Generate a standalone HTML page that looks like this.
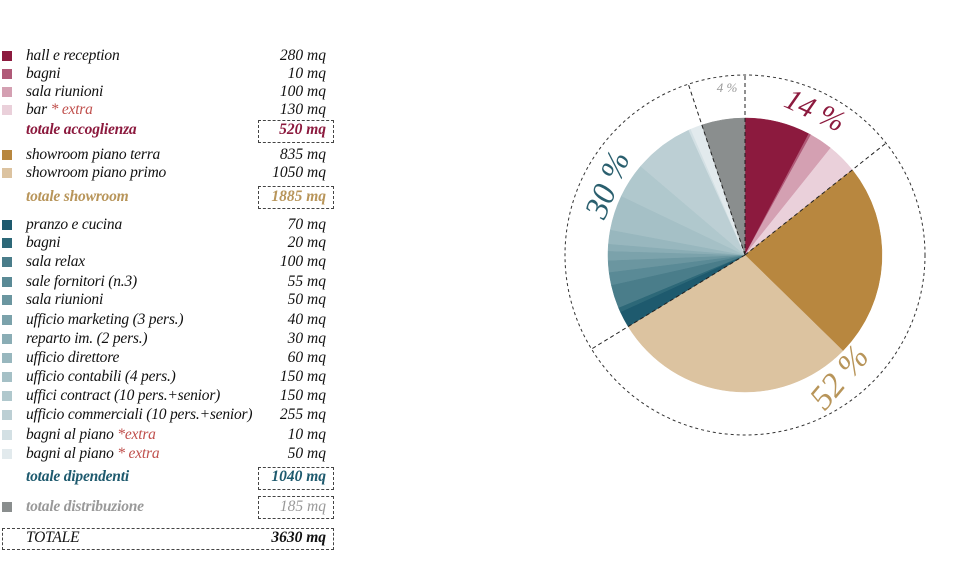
<!DOCTYPE html>
<html><head><meta charset="utf-8"><style>
body{margin:0;width:960px;height:586px;background:#fff;position:relative;overflow:hidden;font-family:"Liberation Serif",serif;font-style:italic;font-size:15.5px;color:#111}
.r{position:absolute;left:0;width:340px;height:18px;line-height:18px}
.sw{position:absolute;left:2px;top:4px;width:10px;height:10px}
.l{position:absolute;left:26px;letter-spacing:-0.2px}
.v{position:absolute;right:14px;text-align:right}
.b{font-weight:bold}
.x{color:#c0504d}
.box{position:absolute;border:1px dashed #444}
</style></head><body>
<div id="leg"></div>
<div class="box" style="left:258px;top:120px;width:74px;height:21px"></div>
<div class="box" style="left:258px;top:186px;width:74px;height:21px"></div>
<div class="box" style="left:258px;top:467px;width:74px;height:21px"></div>
<div class="box" style="left:258px;top:496px;width:74px;height:21px"></div>
<div class="box" style="left:2px;top:528px;width:330px;height:20px"></div>
<svg id="pie" width="960" height="586" style="position:absolute;left:0;top:0"></svg>
<script>
var rows=[
[56,'#8c1a3e','hall e reception','280 mq'],
[74,'#b05a78','bagni','10 mq'],
[92,'#d4a0b2','sala riunioni','100 mq'],
[110,'#ead0da','bar <span class="x">* extra</span>','130 mq'],
[130,null,'<span class="b" style="color:#8c1a3e">totale accoglienza</span>','<span class="b" style="color:#8c1a3e">520 mq</span>'],
[155,'#b8873f','showroom piano terra','835 mq'],
[173,'#dcc3a0','showroom piano primo','1050 mq'],
[197,null,'<span class="b" style="color:#b8955a">totale showroom</span>','<span class="b" style="color:#b8955a">1885 mq</span>'],
[225,'#1e5a6e','pranzo e cucina','70 mq'],
[243,'#2d6878','bagni','20 mq'],
[262,'#4a7d8a','sala relax','100 mq'],
[282,'#5a8a96','sale fornitori (n.3)','55 mq'],
[300,'#6b96a0','sala riunioni','50 mq'],
[320,'#7ba2ab','ufficio marketing (3 pers.)','40 mq'],
[339,'#8aadb5','reparto im. (2 pers.)','30 mq'],
[358,'#98b7be','ufficio direttore','60 mq'],
[377,'#a5c0c6','ufficio contabili (4 pers.)','150 mq'],
[396,'#b0c8cd','uffici contract (10 pers.+senior)','150 mq'],
[415,'#bccfd4','ufficio commerciali (10 pers.+senior)','255 mq'],
[435,'#d3e0e4','bagni al piano <span class="x">*extra</span>','10 mq'],
[454,'#e2eaed','bagni al piano <span class="x">* extra</span>','50 mq'],
[477,null,'<span class="b" style="color:#1e5a6e">totale dipendenti</span>','<span class="b" style="color:#1e5a6e">1040 mq</span>'],
[507,'#8a8e8e','<span class="b" style="color:#999">totale distribuzione</span>','<span style="color:#999">185 mq</span>'],
[538,null,'TOTALE','<span class="b">3630 mq</span>']];
var h='';
rows.forEach(function(r){h+='<div class="r" style="top:'+(r[0]-9)+'px">'+(r[1]?'<div class="sw" style="background:'+r[1]+'"></div>':'')+'<span class="l">'+r[2]+'</span><span class="v">'+r[3]+'</span></div>';});
document.getElementById('leg').innerHTML=h;
var data=[[280,'#8c1a3e'],[10,'#b05a78'],[100,'#d4a0b2'],[130,'#ead0da'],[835,'#b8873f'],[1050,'#dcc3a0'],
[70,'#1e5a6e'],[20,'#2d6878'],[100,'#4a7d8a'],[55,'#5a8a96'],[50,'#6b96a0'],[40,'#7ba2ab'],[30,'#8aadb5'],[60,'#98b7be'],[150,'#a5c0c6'],[150,'#b0c8cd'],[255,'#bccfd4'],[10,'#d3e0e4'],[50,'#e2eaed'],[185,'#8a8e8e']];
var cx=745,cy=255,R=137,RO=180,tot=3630,a=0,s='';
function pt(ang,r){var t=ang/tot*2*Math.PI;return [cx+r*Math.sin(t),cy-r*Math.cos(t)];}
data.forEach(function(d){var p1=pt(a,R),p2=pt(a+d[0],R),lg=d[0]/tot>0.5?1:0;
s+='<path d="M'+cx+' '+cy+'L'+p1[0]+' '+p1[1]+'A'+R+' '+R+' 0 '+lg+' 1 '+p2[0]+' '+p2[1]+'Z" fill="'+d[1]+'" stroke="'+d[1]+'" stroke-width="0.5"/>';a+=d[0];});
s+='<circle cx="'+cx+'" cy="'+cy+'" r="'+RO+'" fill="none" stroke="#333" stroke-dasharray="3,3"/>';
[0,520,2405,3445].forEach(function(v){var p=pt(v,RO);s+='<line x1="'+cx+'" y1="'+cy+'" x2="'+p[0]+'" y2="'+p[1]+'" stroke="#222" stroke-dasharray="4,3"/>';});
s+='<text x="815" y="120" transform="rotate(25 815 110)" font-family="Liberation Serif" font-size="30" fill="#8c1a3e" text-anchor="middle">14 %</text>';
s+='<text x="840" y="388" transform="rotate(-50 840 378)" font-family="Liberation Serif" font-size="34" fill="#b8955a" text-anchor="middle">52 %</text>';
s+='<text x="608" y="195" transform="rotate(-68 608 185)" font-family="Liberation Serif" font-size="33" fill="#2a5f6e" text-anchor="middle">30 %</text>';
s+='<text x="727" y="92" font-family="Liberation Serif" font-size="13" fill="#999" text-anchor="middle">4 %</text>';
document.getElementById('pie').innerHTML=s;
</script>
</body></html>
